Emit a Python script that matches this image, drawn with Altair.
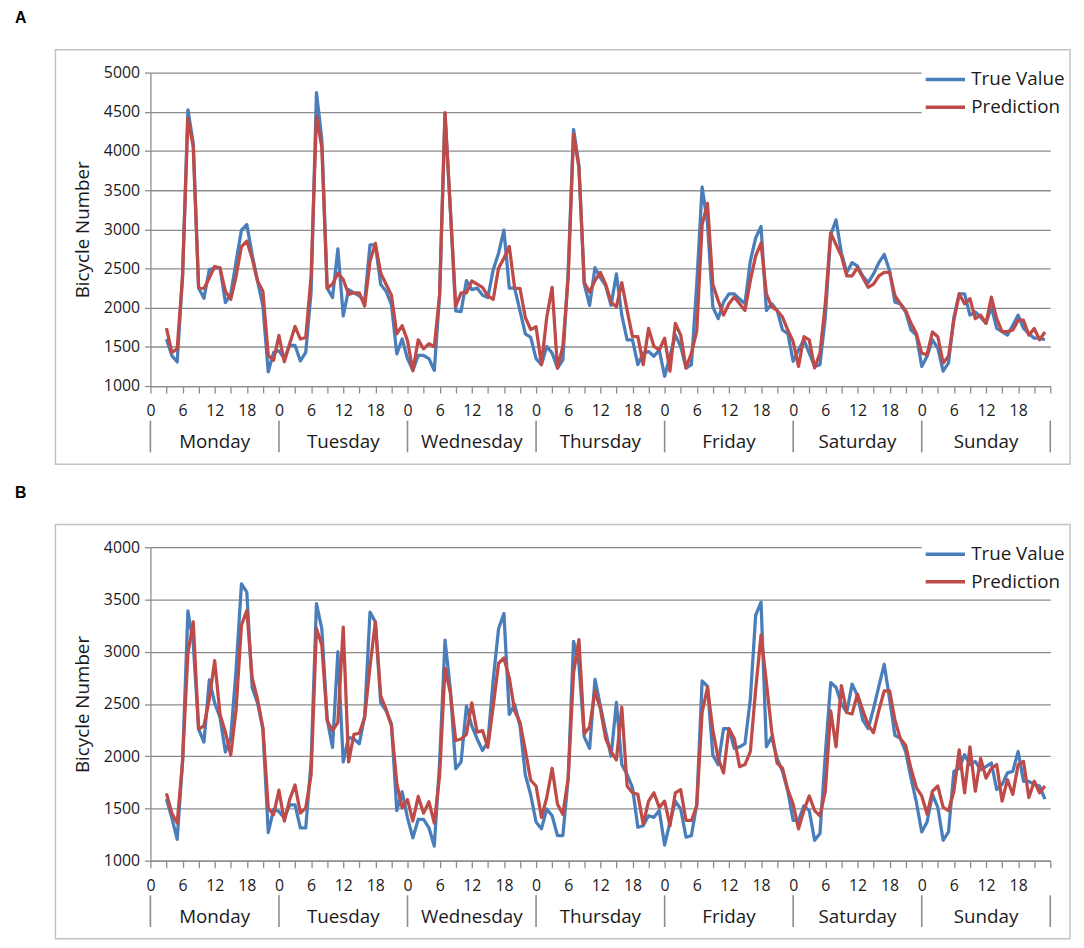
import altair as alt
import pandas as pd

# ---------------- data ----------------
DAYS = ["Monday", "Tuesday", "Wednesday", "Thursday", "Friday", "Saturday", "Sunday"]
SERIES = ["True Value", "Prediction"]
COLORS = ["#4A7EBB", "#BE4B48"]
HOURS = list(range(3, 168))  # hourly points, Monday 03:00 .. Sunday 23:00

# Panel A - true values (per day; Monday starts at 03:00)
A_TRUE_MON = [1600, 1390, 1307, 2400, 4525, 4100, 2250, 2120, 2485, 2505, 2510, 2065, 2170, 2590, 2990, 3060, 2675, 2340, 2020, 1180, 1430]
A_TRUE_TUE = [1450, 1350, 1520, 1520, 1320, 1430, 2200, 4745, 4150, 2250, 2130, 2750, 1895, 2230, 2190, 2150, 2085, 2800, 2800, 2295, 2210, 2040, 1410, 1600]
A_TRUE_WED = [1350, 1200, 1390, 1390, 1350, 1200, 2170, 4480, 3250, 1960, 1950, 2345, 2230, 2250, 2160, 2130, 2485, 2695, 2990, 2250, 2250, 1960, 1665, 1620]
A_TRUE_THU = [1350, 1273, 1505, 1420, 1230, 1335, 2470, 4275, 3815, 2300, 2030, 2510, 2385, 2280, 2030, 2430, 1905, 1590, 1590, 1273, 1420, 1440, 1380, 1460]
A_TRUE_FRI = [1125, 1380, 1650, 1505, 1230, 1273, 2300, 3540, 3080, 2010, 1860, 2070, 2175, 2175, 2110, 2050, 2595, 2890, 3035, 1965, 2050, 1965, 1715, 1670]
A_TRUE_SAT = [1315, 1460, 1590, 1420, 1250, 1273, 1880, 2930, 3120, 2700, 2450, 2575, 2530, 2405, 2320, 2430, 2575, 2680, 2470, 2070, 2050, 1945, 1715, 1650]
A_TRUE_SUN = [1250, 1380, 1590, 1485, 1190, 1295, 1880, 2175, 2175, 1905, 1945, 1880, 1800, 2010, 1735, 1695, 1650, 1775, 1905, 1735, 1670, 1610, 1610, 1590]

# Panel A - predictions
A_PRED_MON = [1740, 1430, 1475, 2400, 4420, 4050, 2260, 2245, 2380, 2525, 2505, 2210, 2105, 2400, 2780, 2850, 2630, 2340, 2210, 1390, 1330]
A_PRED_TUE = [1645, 1310, 1540, 1760, 1600, 1620, 2400, 4440, 4050, 2250, 2300, 2440, 2360, 2170, 2190, 2190, 2020, 2590, 2820, 2440, 2300, 2160, 1665, 1770]
A_PRED_WED = [1580, 1195, 1590, 1475, 1540, 1500, 2170, 4490, 3250, 2020, 2190, 2190, 2340, 2300, 2260, 2150, 2105, 2505, 2630, 2780, 2250, 2245, 1875, 1720]
A_PRED_THU = [1756, 1273, 1880, 2260, 1230, 1505, 2385, 4215, 3790, 2320, 2200, 2345, 2450, 2300, 2070, 2010, 2320, 1965, 1630, 1630, 1273, 1735, 1505, 1460]
A_PRED_FRI = [1610, 1190, 1800, 1650, 1230, 1420, 1700, 3060, 3330, 2300, 2090, 1905, 2050, 2135, 2050, 1965, 2345, 2660, 2825, 2175, 2010, 1965, 1880, 1715]
A_PRED_SAT = [1565, 1250, 1630, 1590, 1230, 1420, 2050, 2955, 2805, 2660, 2405, 2405, 2510, 2385, 2260, 2300, 2405, 2450, 2450, 2155, 2050, 1965, 1800, 1670]
A_PRED_SUN = [1420, 1400, 1690, 1630, 1295, 1380, 1840, 2175, 2050, 2115, 1860, 1905, 1800, 2135, 1860, 1695, 1695, 1715, 1840, 1840, 1650, 1735, 1590, 1690]

# Panel B - true values
B_TRUE_MON = [1590, 1410, 1205, 1945, 3390, 3080, 2260, 2135, 2730, 2510, 2370, 2040, 2180, 2830, 3650, 3570, 2655, 2510, 2260, 1270, 1490]
B_TRUE_TUE = [1470, 1410, 1535, 1535, 1315, 1315, 1945, 3460, 3220, 2355, 2085, 3000, 1945, 2180, 2165, 2120, 2385, 3380, 3285, 2510, 2435, 2310, 1480, 1660]
B_TRUE_WED = [1410, 1220, 1395, 1395, 1315, 1140, 1945, 3110, 2640, 1880, 1945, 2480, 2290, 2165, 2055, 2135, 2730, 3220, 3365, 2400, 2495, 2290, 1820, 1630]
B_TRUE_THU = [1370, 1305, 1495, 1430, 1240, 1240, 1790, 3100, 2880, 2185, 2075, 2735, 2485, 2235, 2000, 2515, 1920, 1825, 1700, 1320, 1335, 1430, 1415, 1480]
B_TRUE_FRI = [1150, 1370, 1570, 1495, 1225, 1240, 1540, 2720, 2670, 2010, 1920, 2265, 2265, 2075, 2090, 2120, 2545, 3350, 3475, 2090, 2185, 1980, 1855, 1665]
B_TRUE_SAT = [1385, 1385, 1525, 1480, 1195, 1260, 2015, 2705, 2660, 2500, 2420, 2690, 2580, 2345, 2265, 2455, 2670, 2880, 2545, 2200, 2170, 2045, 1790, 1560]
B_TRUE_SUN = [1275, 1370, 1635, 1510, 1195, 1275, 1855, 1885, 2015, 1920, 1950, 1870, 1900, 1935, 1680, 1730, 1840, 1855, 2045, 1760, 1760, 1730, 1715, 1590]

# Panel B - predictions
B_PRED_MON = [1645, 1455, 1360, 1945, 2985, 3285, 2260, 2290, 2545, 2915, 2400, 2230, 2010, 2450, 3255, 3395, 2750, 2545, 2275, 1505, 1440]
B_PRED_TUE = [1675, 1380, 1585, 1725, 1455, 1505, 1820, 3220, 3065, 2340, 2245, 2325, 3235, 1945, 2210, 2220, 2370, 2860, 3285, 2575, 2450, 2290, 1740, 1505]
B_PRED_WED = [1585, 1380, 1615, 1455, 1565, 1360, 1820, 2840, 2605, 2150, 2165, 2210, 2510, 2230, 2245, 2085, 2480, 2890, 2940, 2750, 2435, 2325, 2055, 1770]
B_PRED_THU = [1715, 1415, 1605, 1885, 1540, 1445, 1790, 2800, 3115, 2215, 2280, 2625, 2455, 2170, 2045, 1965, 2470, 1715, 1650, 1635, 1350, 1570, 1650, 1510]
B_PRED_FRI = [1570, 1335, 1650, 1680, 1385, 1385, 1525, 2420, 2660, 2250, 1980, 1840, 2265, 2170, 1900, 1920, 2045, 2640, 3160, 2705, 2235, 1935, 1885, 1680]
B_PRED_SAT = [1540, 1305, 1480, 1620, 1480, 1430, 1665, 2435, 2090, 2675, 2420, 2405, 2595, 2440, 2300, 2225, 2440, 2625, 2625, 2345, 2170, 2105, 1880, 1700]
B_PRED_SUN = [1620, 1445, 1665, 1715, 1510, 1480, 1665, 2060, 1650, 2090, 1665, 1980, 1790, 1885, 1920, 1570, 1775, 1635, 1920, 1950, 1605, 1760, 1650, 1715]


def concat(*parts):
    out = []
    for p in parts:
        out.extend(p)
    return out


A_TRUE = concat(A_TRUE_MON, A_TRUE_TUE, A_TRUE_WED, A_TRUE_THU, A_TRUE_FRI, A_TRUE_SAT, A_TRUE_SUN)
A_PRED = concat(A_PRED_MON, A_PRED_TUE, A_PRED_WED, A_PRED_THU, A_PRED_FRI, A_PRED_SAT, A_PRED_SUN)
B_TRUE = concat(B_TRUE_MON, B_TRUE_TUE, B_TRUE_WED, B_TRUE_THU, B_TRUE_FRI, B_TRUE_SAT, B_TRUE_SUN)
B_PRED = concat(B_PRED_MON, B_PRED_TUE, B_PRED_WED, B_PRED_THU, B_PRED_FRI, B_PRED_SAT, B_PRED_SUN)
for arr in (A_TRUE, A_PRED, B_TRUE, B_PRED):
    assert len(arr) == len(HOURS), len(arr)


def long_df(true_vals, pred_vals):
    rows = []
    for h, t, p in zip(HOURS, true_vals, pred_vals):
        rows.append({"hour": h, "series": SERIES[0], "value": t})
        rows.append({"hour": h, "series": SERIES[1], "value": p})
    return pd.DataFrame(rows)


DAY_MID = pd.DataFrame({"hour": [12 + 24 * i for i in range(len(DAYS))], "day": DAYS})
DAY_SEP = pd.DataFrame({"hour": [24 * i for i in range(len(DAYS) + 1)]})

# ---------------- style ----------------
FONT = "Open Sans"
GRID = "#8c8c8c"
TEXT = "#1a1a1a"
W, H = 910, 317


def panel(df, ymax, letter):
    x = alt.X(
        "hour:Q",
        scale=alt.Scale(domain=[0, 168], nice=False, zero=False),
        title=None,
        axis=alt.Axis(
            values=list(range(0, 169, 3)),
            labelExpr="(datum.value % 6 == 0 && datum.value < 168) ? '' + (datum.value % 24) : ''",
            labelFont=FONT, labelFontSize=16, labelColor=TEXT, labelPadding=10,
            labelOverlap=False, labelFlush=False,
            tickSize=7, tickColor=GRID, tickWidth=1.3,
            domainColor=GRID, domainWidth=1.3, grid=False,
        ),
    )
    y = alt.Y(
        "value:Q",
        scale=alt.Scale(domain=[1000, ymax], nice=False, zero=False),
        axis=alt.Axis(
            values=list(range(1000, ymax + 1, 500)), format="d",
            grid=True, gridColor=GRID, gridWidth=1.3,
            tickSize=6, tickColor=GRID, tickWidth=1.3,
            domainColor=GRID, domainWidth=1.3,
            labelFont=FONT, labelFontSize=16, labelColor=TEXT, labelPadding=5,
            title="Bicycle Number", titleFont=FONT, titleFontSize=19,
            titleFontWeight="normal", titleColor=TEXT, titlePadding=11,
        ),
    )
    color = alt.Color(
        "series:N",
        scale=alt.Scale(domain=SERIES, range=COLORS),
        legend=alt.Legend(
            title=None, orient="none", legendX=780, legendY=-4.5,
            fillColor="white", padding=2,
            symbolType="M-1,0L4.3,0", symbolSize=225, symbolStrokeWidth=3.5,
            labelOffset=29, rowPadding=8,
            labelFont=FONT, labelFontSize=19, labelColor=TEXT,
        ),
    )

    frame = alt.Chart(alt.Data(values=[{"k": 1}])).mark_rect(
        fillOpacity=0, stroke="#c3c3c3", strokeWidth=1.5
    ).encode(x=alt.value(-96), x2=alt.value(930), y=alt.value(-23), y2=alt.value(396))

    true_line = alt.Chart(df).transform_filter(alt.datum.series == SERIES[0]).mark_line(
        strokeWidth=3.3, strokeJoin="round"
    ).encode(x=x, y=y, color=color)
    pred_line = alt.Chart(df).transform_filter(alt.datum.series == SERIES[1]).mark_line(
        strokeWidth=3.3, strokeJoin="round"
    ).encode(x=x, y=y, color=color)

    seps = alt.Chart(DAY_SEP).mark_rule(color=GRID, strokeWidth=1.6).encode(
        x=x, y=alt.value(352), y2=alt.value(384)
    )
    names = alt.Chart(DAY_MID).mark_text(
        font=FONT, fontSize=19, color=TEXT, baseline="middle", align="center"
    ).encode(x=x, y=alt.value(374), text="day:N")

    tag = alt.Chart(alt.Data(values=[{"t": letter}])).mark_text(
        font="Liberation Sans", fontSize=16, fontWeight="bold", color="black",
        align="left", baseline="top",
    ).encode(x=alt.value(-137), y=alt.value(-63), text="t:N")

    return alt.layer(frame, true_line, pred_line, seps, names, tag).properties(width=W, height=H)


pa = panel(long_df(A_TRUE, A_PRED), 5000, "A")
pb = panel(long_df(B_TRUE, B_PRED), 4000, "B")

chart = (
    alt.vconcat(pa, pb, spacing=20)
    .resolve_scale(color="independent")
    .properties(padding={"left": 7, "top": -3, "right": 5, "bottom": 5})
    .configure_view(strokeWidth=0)
)

chart.save("out.html", embed_options={"renderer": "svg", "actions": False})
